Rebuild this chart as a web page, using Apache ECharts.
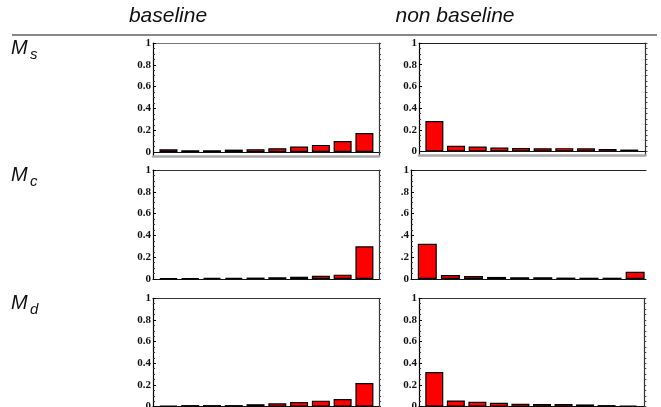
<!DOCTYPE html>
<html><head><meta charset="utf-8">
<script src="https://cdn.jsdelivr.net/npm/echarts@6/dist/echarts.min.js"></script>
<style>html,body{margin:0;padding:0;background:#fff}#c{width:661px;height:407px}</style>
</head><body><div id="c"></div>
<script>
// ---- data ----
const columnTitles = ['baseline', 'non baseline'];
const rowLabels = [['M', 's'], ['M', 'c'], ['M', 'd']];
const ranks = [1, 2, 3, 4, 5, 6, 7, 8, 9, 10];
const msBaseline    = [0.025, 0.016, 0.016, 0.022, 0.026, 0.035, 0.050, 0.065, 0.100, 0.175];
const msNonBaseline = [0.280, 0.053, 0.045, 0.037, 0.032, 0.030, 0.031, 0.029, 0.024, 0.018];
const mcBaseline    = [0.006, 0.006, 0.010, 0.010, 0.013, 0.016, 0.021, 0.030, 0.040, 0.300];
const mcNonBaseline = [0.324, 0.037, 0.028, 0.019, 0.016, 0.016, 0.013, 0.012, 0.012, 0.067];
const mdBaseline    = [0.008, 0.014, 0.014, 0.014, 0.022, 0.030, 0.042, 0.055, 0.070, 0.217];
const mdNonBaseline = [0.320, 0.057, 0.045, 0.035, 0.027, 0.023, 0.023, 0.020, 0.014, 0.010];
const yTicks = [0, 0.2, 0.4, 0.6, 0.8, 1];
const yTickLabelsStd = ['0', '0.2', '0.4', '0.6', '0.8', '1'];
const yTickLabelsShort = ['0', '.2', '.4', '.6', '.8', '1'];
const yMinorTicks = [0.05, 0.1, 0.15, 0.25, 0.3, 0.35, 0.45, 0.5, 0.55, 0.65, 0.7, 0.75, 0.85, 0.9, 0.95];

// ---- layout ----
const panels = [
  {data: msBaseline,    labels: yTickLabelsStd,   left: 153, right: 379,   top: 43,    zero: 152,   bottom: 156,   xmin: 0.29, xmax: 10.67, bw: 18, grayBase: true, topColor: '#777', rightFrame: true},
  {data: msNonBaseline, labels: yTickLabelsStd,   left: 419, right: 645.5, top: 43,    zero: 151.5, bottom: 155,   xmin: 0.29, xmax: 10.75, bw: 18, grayBase: true, topColor: '#222', rightFrame: true},
  {data: mcBaseline,    labels: yTickLabelsStd,   left: 153, right: 379,   top: 170,   zero: 279,   bottom: 279,   xmin: 0.29, xmax: 10.67, bw: 18, grayBase: false, topColor: '#333', rightFrame: true},
  {data: mcNonBaseline, labels: yTickLabelsShort, left: 411, right: 646,   top: 170,   zero: 279,   bottom: 279,   xmin: 0.295, xmax: 10.47, bw: 19, grayBase: false, topColor: '#222', rightFrame: false},
  {data: mdBaseline,    labels: yTickLabelsStd,   left: 153, right: 379,   top: 298.3, zero: 406.6, bottom: 406.6, xmin: 0.29, xmax: 10.67, bw: 18, grayBase: false, topColor: '#333', rightFrame: true},
  {data: mdNonBaseline, labels: yTickLabelsStd,   left: 419, right: 644.3, top: 298.3, zero: 406.6, bottom: 406.6, xmin: 0.29, xmax: 10.75, bw: 18, grayBase: false, topColor: '#333', rightFrame: true}
];

const grid = [], xAxis = [], yAxis = [], series = [];
panels.forEach((p, i) => {
  const yMin = -(p.bottom - p.zero) / (p.zero - p.top);
  grid.push({left: p.left, top: p.top, width: p.right - p.left, height: p.bottom - p.top,
             containLabel: false, outerBoundsMode: 'none', show: false});
  xAxis.push({type: 'value', gridIndex: i, min: p.xmin, max: p.xmax, position: 'bottom',
    axisLine: {show: true, onZero: false, lineStyle: p.grayBase ? {color: '#aaa', width: 2.5} : {color: '#111', width: 1.2}},
    axisTick: {show: false}, axisLabel: {show: false}, splitLine: {show: false}});
  xAxis.push({type: 'value', gridIndex: i, min: p.xmin, max: p.xmax, position: 'top',
    axisLine: {show: true, onZero: false, lineStyle: {color: p.topColor, width: 1.2}},
    axisTick: {show: false}, axisLabel: {show: false}, splitLine: {show: false}});
  yAxis.push({type: 'value', gridIndex: i, min: yMin, max: 1, position: 'left',
    axisLine: {show: true, onZero: false, lineStyle: {color: '#000', width: 1.2}},
    axisTick: {show: true, inside: true, length: 3, customValues: yTicks, lineStyle: {color: '#000'}},
    axisLabel: {show: true, customValues: yTicks, margin: 2,
      formatter: v => { const k = yTicks.findIndex(t => Math.abs(t - v) < 1e-6); return k >= 0 ? p.labels[k] : ''; },
      fontFamily: 'Liberation Serif', fontWeight: 'bold', fontSize: 11, color: '#111'},
    splitLine: {show: false}});
  yAxis.push({type: 'value', gridIndex: i, min: yMin, max: 1, position: 'left',
    axisLine: {show: false, onZero: false},
    axisTick: {show: true, inside: true, length: 2, customValues: yMinorTicks, lineStyle: {color: '#333'}},
    axisLabel: {show: false}, splitLine: {show: false}});
  yAxis.push({type: 'value', gridIndex: i, min: yMin, max: 1, position: 'right',
    axisLine: {show: p.rightFrame, onZero: false, lineStyle: {color: '#333', width: 1.2}},
    axisTick: {show: p.rightFrame, inside: false, length: 2, customValues: yMinorTicks.concat(yTicks), lineStyle: {color: '#444'}},
    axisLabel: {show: false}, splitLine: {show: false}});
  series.push({type: 'bar', xAxisIndex: 2 * i, yAxisIndex: 3 * i,
    data: ranks.map((r, k) => [r, p.data[k]]), barWidth: p.bw,
    itemStyle: {color: '#ff0000', borderColor: '#000', borderWidth: 1.2},
    markLine: p.grayBase ? {silent: true, symbol: 'none', label: {show: false},
      lineStyle: {color: '#111', width: 1.2, type: 'solid'}, data: [{yAxis: 0}]} : undefined,
    animation: false});
});

const headStyle = {fontFamily: 'Liberation Sans', fontStyle: 'italic', fontSize: 21, fill: '#111', align: 'center', verticalAlign: 'middle'};
const graphic = [
  {type: 'text', x: 168, y: 16, style: Object.assign({text: columnTitles[0]}, headStyle)},
  {type: 'text', x: 455, y: 16, style: Object.assign({text: columnTitles[1]}, headStyle)},
  {type: 'line', shape: {x1: 12, y1: 35, x2: 657, y2: 35}, style: {stroke: '#888', lineWidth: 2}}
];
const rowY = [48, 175, 303];
rowLabels.forEach((lab, r) => {
  graphic.push({type: 'text', x: 11, y: rowY[r], style: {text: lab[0], fontFamily: 'Liberation Sans', fontStyle: 'italic', fontSize: 20, fill: '#111', align: 'left', verticalAlign: 'middle'}});
  graphic.push({type: 'text', x: 30, y: rowY[r] + 7, style: {text: lab[1], fontFamily: 'Liberation Sans', fontStyle: 'italic', fontSize: 15, fill: '#111', align: 'left', verticalAlign: 'middle'}});
});

const chart = echarts.init(document.getElementById('c'), null, {renderer: 'canvas'});
chart.setOption({animation: false, backgroundColor: '#fff', grid, xAxis, yAxis, series, graphic});
</script></body></html>
